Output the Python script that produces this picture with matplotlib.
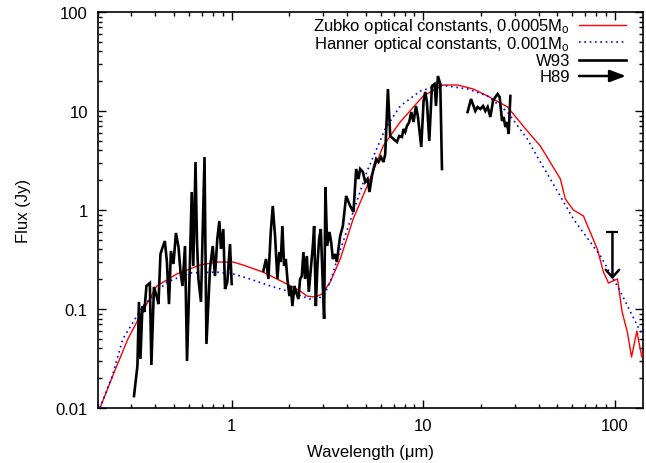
import matplotlib
matplotlib.use("Agg")
import matplotlib.pyplot as plt
from matplotlib import ticker

plt.rcParams['font.family'] = ['Liberation Sans', 'DejaVu Sans']
plt.rcParams['mathtext.fontset'] = 'custom'
plt.rcParams['mathtext.rm'] = 'Liberation Sans'
plt.rcParams['mathtext.it'] = 'Liberation Sans:italic'
plt.rcParams['mathtext.bf'] = 'Liberation Sans:bold'

# ---------------- data ----------------
zubko_wl = [0.206, 0.246, 0.288, 0.333, 0.408, 0.519, 0.685, 0.84, 1.02, 1.15, 1.46,
            1.86, 2.28, 2.48, 2.73, 2.97, 3.27, 3.69, 4.31, 5.10, 6.18, 7.58, 10.0,
            12.7, 15.1, 18.2, 21.6, 27.5, 34.9, 40.8, 51.9, 55.1, 60.7, 68.5, 81.0,
            87.1, 92.5, 103, 109, 116, 122, 130, 138, 146]
zubko_flux = [0.010, 0.0237, 0.0497, 0.085, 0.171, 0.226, 0.278, 0.298, 0.298, 0.278,
              0.236, 0.187, 0.152, 0.135, 0.132, 0.142, 0.187, 0.320, 0.811, 1.75,
              4.43, 7.74, 14.2, 18.3, 18.3, 16.7, 14.2, 11.0, 6.28, 4.43, 2.06, 1.29,
              1.0, 0.87, 0.40, 0.236, 0.183, 0.201, 0.093, 0.0586, 0.0327, 0.0599,
              0.0327, 0.0423]

hanner_wl = [0.206, 0.238, 0.271, 0.345, 0.460, 0.607, 0.84, 1.02, 1.25, 1.59, 2.02,
             2.57, 2.83, 3.08, 3.31, 3.56, 3.91, 4.31, 5.10, 6.33, 7.58, 9.65, 12.3,
             17.0, 21.6, 27.5, 34.9, 40.8, 46.0, 60.7, 84.0, 106.8, 131.1, 146.0]
hanner_flux = [0.010, 0.0206, 0.0497, 0.107, 0.187, 0.231, 0.236, 0.226, 0.201, 0.171,
               0.149, 0.126, 0.126, 0.145, 0.201, 0.320, 0.546, 0.954, 2.48, 6.58,
               11.2, 15.9, 18.3, 16.7, 14.2, 9.77, 5.21, 3.05, 2.06, 0.811, 0.343,
               0.149, 0.0673, 0.0464]

# W93 spectrum, optical part
w93_opt_wl = [0.310, 0.323, 0.329, 0.335, 0.343, 0.351, 0.360, 0.375, 0.382, 0.394,
              0.408, 0.416, 0.426, 0.436, 0.449, 0.460, 0.472, 0.483, 0.498, 0.513,
              0.529, 0.542, 0.555, 0.572, 0.586, 0.607, 0.620, 0.632, 0.649, 0.660,
              0.672, 0.693, 0.723, 0.740, 0.772, 0.798, 0.820, 0.843, 0.864, 0.881,
              0.906, 0.925, 0.951, 0.982, 1.002]
w93_opt_flux = [0.0132, 0.0266, 0.118, 0.0313, 0.107, 0.0933, 0.171, 0.183, 0.0272,
                0.167, 0.132, 0.112, 0.359, 0.413, 0.486, 0.305, 0.112, 0.385, 0.285,
                0.586, 0.423, 0.236, 0.171, 0.433, 0.0298, 0.298, 1.52, 0.272, 3.05,
                0.510, 0.201, 0.118, 3.43, 0.0443, 0.254, 0.433, 0.215, 0.510, 0.774,
                0.404, 0.643, 0.159, 0.187, 0.454, 0.179]

# W93 spectrum, near/mid-IR part
w93_ir_wl = [1.466, 1.514, 1.557, 1.602, 1.641, 1.687, 1.735, 1.776, 1.806, 1.842,
             1.880, 1.919, 1.956, 2.004, 2.038, 2.077, 2.128, 2.172, 2.233, 2.279,
             2.326, 2.371, 2.420, 2.470, 2.530, 2.592, 2.655, 2.697, 2.753, 2.805,
             2.863, 2.922, 2.994, 3.041, 3.089, 3.153, 3.242, 3.308, 3.377, 3.471,
             3.543, 3.612, 3.687, 3.808, 3.962, 4.157, 4.325, 4.468, 4.593, 4.688,
             4.844, 4.980, 5.120, 5.244, 5.398, 5.503, 5.684, 5.844, 6.014, 6.205,
             6.334, 6.542, 6.725, 6.997, 7.290, 7.494, 7.741, 7.891, 8.054, 8.221,
             8.451, 8.656, 8.899, 9.161, 9.383, 9.763, 10.04, 10.24, 10.45, 10.75,
             11.10, 11.46, 11.65, 11.93, 12.27, 12.52]
w93_ir_flux = [0.242, 0.320, 0.201, 0.600, 1.098, 0.546, 0.201, 0.376, 0.298, 0.689,
               0.272, 0.320, 0.201, 0.135, 0.171, 0.107, 0.171, 0.149, 0.126, 0.201,
               0.215, 0.376, 0.201, 0.343, 0.149, 0.254, 0.433, 0.689, 0.107, 0.272,
               0.510, 0.643, 0.171, 0.0793, 1.707, 0.433, 0.600, 0.475, 0.320, 0.359,
               0.298, 0.404, 0.546, 0.689, 1.385, 1.098, 0.954, 2.595, 2.056, 2.595,
               2.421, 1.918, 2.056, 1.520, 2.205, 2.595, 3.274, 3.054, 3.430, 3.054,
               3.680, 16.68, 5.591, 5.214, 4.863, 5.591, 5.463, 6.579, 6.137, 7.055,
               7.743, 9.770, 7.743, 11.23, 8.700, 4.329, 12.62, 15.56, 12.33, 4.977,
               17.88, 18.74, 11.23, 22.57, 18.74, 2.595]

# W93 spectrum, far-IR part
w93_far_wl = [17.03, 17.75, 18.69, 19.21, 19.85, 20.50, 21.08, 21.67, 22.38, 23.12,
              23.77, 24.43, 25.03, 25.76, 26.26, 26.80, 27.36, 27.89, 28.47]
w93_far_flux = [9.77, 13.22, 10.0, 10.97, 10.47, 11.23, 10.0, 10.97, 8.70, 12.62,
                13.85, 14.85, 13.85, 7.93, 8.70, 6.89, 7.74, 5.86, 14.18]

# H89 upper limit
h89_wl = [97.0]
h89_upper = [0.6]
h89_arrow_to = [0.2]

legend_labels = ['Zubko optical constants, 0.0005M$_{\\mathrm{o}}$',
                 'Hanner optical constants, 0.001M$_{\\mathrm{o}}$',
                 'W93', 'H89']

# ---------------- figure ----------------
W, H = 646, 464
fig = plt.figure(figsize=(W / 100, H / 100), dpi=100)
ax_l, ax_r, ax_t, ax_b = 97.5, 643, 13, 409
ax = fig.add_axes([ax_l / W, (H - ax_b) / H, (ax_r - ax_l) / W, (ax_b - ax_t) / H])
ax.set_xscale('log')
ax.set_yscale('log')
ax.set_xlim(0.2, 140)
ax.set_ylim(0.01, 100)

red = '#ff0000'
blue = '#0000ff'

ax.plot(zubko_wl, zubko_flux, color=red, lw=1.0, zorder=3)
ax.plot(hanner_wl, hanner_flux, color=blue, lw=1.2, linestyle=(0, (1.0, 2.2)), zorder=3)
for wl, fl in [(w93_opt_wl, w93_opt_flux), (w93_ir_wl, w93_ir_flux), (w93_far_wl, w93_far_flux)]:
    ax.plot(wl, fl, color='black', lw=1.9, zorder=4, solid_joinstyle='miter')

for wl, up, lo in zip(h89_wl, h89_upper, h89_arrow_to):
    ax.annotate('', xy=(wl, lo), xytext=(wl, up),
                arrowprops=dict(arrowstyle='->,head_length=0.45,head_width=0.4',
                                lw=1.8, color='black', shrinkA=0, shrinkB=0,
                                mutation_scale=12))
    ax.plot([wl], [up], marker='_', markersize=8, mew=1.6, color='black')

# ticks in gnuplot style
ax.tick_params(which='both', direction='in', top=True, right=True, labelsize=12,
               pad=7, colors='black')
ax.tick_params(which='major', length=6, width=1.0)
ax.tick_params(which='minor', length=3, width=1.0)
fmt = ticker.FuncFormatter(lambda v, p: f'{v:g}')
ax.yaxis.set_major_locator(ticker.LogLocator(base=10, numticks=10))
ax.yaxis.set_major_formatter(fmt)
ax.xaxis.set_major_formatter(fmt)
ax.yaxis.set_minor_locator(ticker.LogLocator(base=10, subs=range(2, 10), numticks=20))
ax.xaxis.set_minor_locator(ticker.LogLocator(base=10, subs=range(2, 10), numticks=20))
ax.yaxis.set_minor_formatter(ticker.NullFormatter())
ax.xaxis.set_minor_formatter(ticker.NullFormatter())
for s in ax.spines.values():
    s.set_linewidth(1.2)

ax.set_xlabel('Wavelength (\u03bcm)', fontsize=12, labelpad=8)
ax.set_ylabel('Flux (Jy)', fontsize=12, labelpad=18)

# gnuplot-style key: right-justified text, sample on the right
def ax_x(px):
    return (px - ax_l) / (ax_r - ax_l)

def ax_y(py):
    return (ax_b - py) / (ax_b - ax_t)

row_line_px = [26, 43, 61, 77]
text_right_px = 570
sample_px = (579, 626)
for i, lab in enumerate(legend_labels):
    yl = ax_y(row_line_px[i])
    ax.text(ax_x(text_right_px), ax_y(row_line_px[i] + 5.5), lab, ha='right',
            va='baseline', fontsize=12, transform=ax.transAxes)
    if i == 0:
        ax.plot([ax_x(sample_px[0]), ax_x(sample_px[1])], [yl, yl], color=red, lw=1.0,
                transform=ax.transAxes)
    elif i == 1:
        ax.plot([ax_x(sample_px[0]), ax_x(sample_px[1])], [yl, yl], color=blue, lw=1.2,
                linestyle=(0, (1.0, 2.2)), transform=ax.transAxes)
    elif i == 2:
        ax.plot([ax_x(sample_px[0]), ax_x(sample_px[1])], [yl, yl], color='black', lw=1.9,
                transform=ax.transAxes)
    else:
        ax.annotate('', xy=(ax_x(sample_px[1]), yl), xytext=(ax_x(sample_px[0]), yl),
                    xycoords='axes fraction', textcoords='axes fraction',
                    arrowprops=dict(arrowstyle='-|>,head_length=0.8,head_width=0.3',
                                    lw=1.8, color='black', shrinkA=0, shrinkB=0,
                                    mutation_scale=12))

fig.savefig('out.png', dpi=100)
